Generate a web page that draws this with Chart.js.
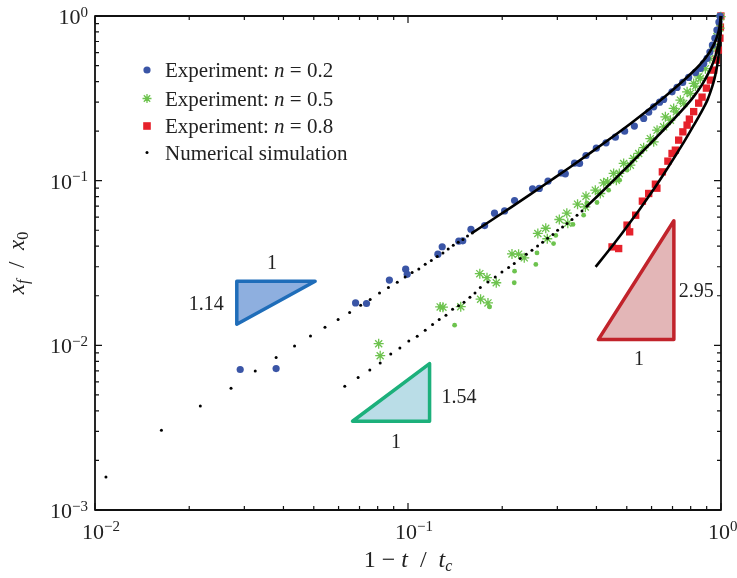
<!DOCTYPE html>
<html>
<head>
<meta charset="utf-8">
<script src="https://cdn.jsdelivr.net/npm/chart.js@4.4.0/dist/chart.umd.min.js"></script>
<style>
  html, body { margin: 0; padding: 0; background: #fff; }
</style>
</head>
<body>
<canvas id="chart" width="737" height="578"></canvas>
<script>
// 實驗數據 n = 0.2
const blueX = [0.0291,0.0379,0.0680,0.0737,0.0872,0.0983,0.0994,0.1246,0.1286,0.1453,0.1496,0.1589,0.1757,0.1890,0.2035,0.2190,0.2500,0.2627,0.2801,0.3090,0.3182,0.3405,0.3533,0.3704,0.3996,0.4293,0.4597,0.4922,0.5287,0.5662,0.5875,0.6095,0.6368,0.6558,0.6976,0.7238,0.7543,0.7884,0.8284,0.8592,0.8806,0.9029,0.9215,0.9387,0.9561,0.9703,0.9847,0.9920];
const blueY = [0.00713,0.00723,0.0181,0.01795,0.0249,0.0290,0.0270,0.0358,0.0397,0.0429,0.0431,0.0507,0.0534,0.0635,0.0655,0.0758,0.0892,0.0897,0.0993,0.1115,0.1100,0.1277,0.1272,0.1422,0.1575,0.1697,0.1838,0.1998,0.2144,0.2387,0.2607,0.2808,0.2998,0.3113,0.3463,0.3683,0.3950,0.4236,0.4544,0.4805,0.5152,0.5527,0.6036,0.6657,0.7337,0.8210,0.9183,1.0];

// 實驗數據 n = 0.5 (星號與小點)
const greenX = [0.0806,0.0815,0.1267,0.1293,0.1474,0.1696,0.1706,0.1788,0.1801,0.1914,0.2149,0.2256,0.2352,0.2599,0.2755,0.2786,0.3044,0.3217,0.3240,0.3481,0.3704,0.3686,0.3967,0.4116,0.4217,0.4343,0.4539,0.4630,0.4733,0.4887,0.5134,0.5260,0.5457,0.5662,0.5946,0.6095,0.6248,0.6558,0.6642,0.6891,0.7060,0.7200,0.7418,0.7601,0.7792,0.7985,0.8179,0.8284,0.8487,0.8592,0.8915,0.9215,0.9490,0.9703,0.9906,0.998];
const greenY = [0.01023,0.00865,0.01711,0.01704,0.01716,0.02723,0.01906,0.02575,0.01810,0.02400,0.0359,0.0358,0.0340,0.0478,0.0514,0.0444,0.0581,0.0635,0.0552,0.0720,0.0805,0.0693,0.0876,0.0836,0.0970,0.0983,0.1106,0.1007,0.1106,0.1272,0.1242,0.1364,0.1463,0.1587,0.1800,0.1721,0.2026,0.2123,0.2441,0.2331,0.2746,0.2618,0.3084,0.2944,0.3463,0.3387,0.3896,0.3751,0.4272,0.4178,0.4790,0.5511,0.6474,0.7499,0.8443,0.99];
const greenDotX = [0.1409,0.1822,0.2185,0.2190,0.2561,0.2583,0.2918,0.2966,0.3366,0.3640,0.3731,0.4016,0.4375,0.4745,0.5010];
const greenDotY = [0.01325,0.01711,0.02400,0.02820,0.0310,0.0364,0.0415,0.0465,0.0542,0.0617,0.0733,0.0737,0.0876,0.1007,0.1158];

// 實驗數據 n = 0.8
const redX = [0.4486,0.4710,0.5010,0.5107,0.5338,0.5608,0.5875,0.6172,0.6240,0.6496,0.6766,0.6976,0.7148,0.7325,0.7554,0.7792,0.7925,0.8179,0.8487,0.8700,0.8982,0.9249,0.9478,0.9667,0.9811,0.9920,0.9956,0.999];
const redY = [0.0396,0.0387,0.0537,0.0489,0.0617,0.0751,0.0836,0.0952,0.0900,0.1131,0.1314,0.1463,0.1532,0.1763,0.1979,0.2174,0.2364,0.2626,0.2957,0.3216,0.3648,0.4079,0.4691,0.5397,0.6207,0.7337,0.8562,1.0];

// 數值模擬 (稀疏點與密集段)
const sim02X = [0.01084,0.0163,0.0217,0.0272,0.0325,0.0379,0.0434,0.0488,0.0543,0.0598,0.0651,0.0706,0.0757,0.0811,0.0866,0.0924,0.0979,0.1031,0.1083,0.1135,0.1187,0.1240,0.1293,0.1344,0.1395,0.1447,0.1498,0.1549,0.1604];
const sim02Y = [0.001587,0.00305,0.004283,0.00549,0.00699,0.00843,0.00992,0.01141,0.01288,0.01435,0.01582,0.01752,0.01898,0.02081,0.02245,0.02417,0.02604,0.02769,0.02912,0.03110,0.03275,0.03463,0.03642,0.03852,0.04055,0.04230,0.04393,0.04619,0.04818];
const sim02LineX = [0.1604,0.1832,0.2122,0.2459,0.2848,0.3301,0.3824,0.4430,0.5134,0.5946,0.6642,0.7418,0.8162,0.8592,0.8915,0.9249,0.9526,0.9739,0.9883,0.999];
const sim02LineY = [0.04818,0.0569,0.0684,0.0826,0.0999,0.1211,0.1474,0.1802,0.2216,0.2749,0.3256,0.3900,0.4620,0.5110,0.5549,0.6147,0.6817,0.7603,0.8502,1.0];

const sim05X = [0.0628,0.0693,0.0755,0.0815,0.0881,0.0942,0.1006,0.1070,0.1135,0.1198,0.1258,0.1322,0.1388,0.1450,0.1510,0.1577,0.1637,0.1702,0.1801,0.1900,0.1996,0.2096,0.2185,0.2284,0.2387,0.2489,0.2594,0.2692,0.2793,0.2905,0.3006,0.3118,0.3221,0.3342,0.3467,0.3597,0.3731];
const sim05Y = [0.00564,0.00637,0.00709,0.00782,0.00887,0.00964,0.01063,0.01136,0.01235,0.01338,0.01435,0.01524,0.01657,0.01740,0.01828,0.01960,0.02081,0.02245,0.02427,0.02604,0.02792,0.02970,0.03141,0.03368,0.0358,0.03784,0.04016,0.04230,0.04474,0.04710,0.05004,0.05240,0.05495,0.0581,0.0617,0.0655,0.0700];
const sim05LineX = [0.3731,0.4026,0.4539,0.5134,0.5733,0.6402,0.6891,0.7601,0.8179,0.8700,0.9135,0.9478,0.9716,0.9883,0.9970,1.0];
const sim05LineY = [0.0700,0.0804,0.1004,0.1267,0.1564,0.1941,0.2248,0.2746,0.3238,0.3831,0.4530,0.5321,0.6207,0.7337,0.8562,1.0];

const sim08LineX = [0.3975,0.4270,0.4539,0.4830,0.5134,0.5457,0.5806,0.6172,0.6558,0.6976,0.7308,0.7601,0.7896,0.8179,0.8501,0.8806,0.9048,0.9249,0.9456,0.9596,0.9739,0.9847,0.9920,0.9970,1.0];
const sim08LineY = [0.02995,0.03547,0.04113,0.04798,0.05604,0.06572,0.07762,0.0919,0.1095,0.1315,0.1515,0.1709,0.1930,0.2165,0.2458,0.2780,0.3084,0.3449,0.3939,0.4406,0.5103,0.5951,0.6941,0.8210,1.0];

// 斜率三角形 (數據座標) 與標籤
const triBlueX = [0.02838,0.0505,0.02838];
const triBlueY = [0.02451,0.02451,0.01343];
const triGreenX = [0.0665,0.1172,0.1172];
const triGreenY = [0.003458,0.003458,0.00775];
const triRedX = [0.4056,0.7070,0.7070];
const triRedY = [0.01084,0.01084,0.0571];
const slopeLabels = ['1.14', '1.54', '2.95'];

// 刻度
const xMajor = [0.01, 0.1, 1];
const xMajorExp = ['\u22122', '\u22121', '0'];
const yMajor = [0.001, 0.01, 0.1, 1];
const yMajorExp = ['\u22123', '\u22122', '\u22121', '0'];
const legendLabels = ['Experiment: n = 0.2', 'Experiment: n = 0.5', 'Experiment: n = 0.8', 'Numerical simulation'];

const serif = '"Liberation Serif", "Times New Roman", serif';
const textColor = '#222';
const blue = '#3a55a6';
const green = '#6dc34e';
const red = '#e6212b';

const pts = (xs, ys) => xs.map((x, i) => ({ x: x, y: ys[i] }));

function richText(ctx, parts, x, y, align) {
    const widths = parts.map(p => {
        ctx.font = `${p.it ? 'italic ' : ''}${p.size}px ${serif}`;
        return ctx.measureText(p.t).width;
    });
    const total = widths.reduce((a, b) => a + b, 0);
    let cx = align === 'center' ? x - total / 2 : align === 'right' ? x - total : x;
    ctx.textAlign = 'left';
    ctx.textBaseline = 'alphabetic';
    parts.forEach((p, i) => {
        ctx.font = `${p.it ? 'italic ' : ''}${p.size}px ${serif}`;
        ctx.fillText(p.t, cx, y + (p.dy || 0));
        cx += widths[i];
    });
}

function drawTriangle(ctx, xs, ys, sx, sy, fill, stroke) {
    ctx.beginPath();
    xs.forEach((v, i) => {
        const px = sx.getPixelForValue(v), py = sy.getPixelForValue(ys[i]);
        if (i === 0) ctx.moveTo(px, py); else ctx.lineTo(px, py);
    });
    ctx.closePath();
    ctx.fillStyle = fill;
    ctx.fill();
    ctx.lineWidth = 3.5;
    ctx.lineJoin = 'round';
    ctx.strokeStyle = stroke;
    ctx.stroke();
}

function drawMarker(ctx, kind, x, y) {
    ctx.beginPath();
    if (kind === 'circle') {
        ctx.fillStyle = blue;
        ctx.arc(x, y, 3.6, 0, Math.PI * 2);
        ctx.fill();
    } else if (kind === 'star') {
        ctx.strokeStyle = green;
        ctx.lineWidth = 1.3;
        for (let k = 0; k < 4; k++) {
            const a = k * Math.PI / 4;
            ctx.moveTo(x - 4.5 * Math.cos(a), y - 4.5 * Math.sin(a));
            ctx.lineTo(x + 4.5 * Math.cos(a), y + 4.5 * Math.sin(a));
        }
        ctx.stroke();
    } else if (kind === 'rect') {
        ctx.fillStyle = red;
        ctx.fillRect(x - 3.8, y - 3.8, 7.6, 7.6);
    } else {
        ctx.fillStyle = '#000';
        ctx.arc(x, y, 1.5, 0, Math.PI * 2);
        ctx.fill();
    }
}

const framePlugin = {
    id: 'framePlugin',
    beforeDatasetsDraw(chart) {
        const { ctx, chartArea: a, scales: { x, y } } = chart;
        ctx.save();

        // 斜率三角形
        drawTriangle(ctx, triBlueX, triBlueY, x, y, '#8eafdf', '#1f6db9');
        drawTriangle(ctx, triGreenX, triGreenY, x, y, '#badde7', '#1cb07b');
        drawTriangle(ctx, triRedX, triRedY, x, y, '#e3b6b7', '#c1232b');

        ctx.fillStyle = textColor;
        const bx = triBlueX.map(v => x.getPixelForValue(v)), by = triBlueY.map(v => y.getPixelForValue(v));
        richText(ctx, [{ t: '1', size: 20 }], (bx[0] + bx[1]) / 2 - 4, by[0] - 12, 'center');
        richText(ctx, [{ t: slopeLabels[0], size: 20 }], bx[0] - 13, (by[0] + by[2]) / 2 + 7, 'right');
        const gx = triGreenX.map(v => x.getPixelForValue(v)), gy = triGreenY.map(v => y.getPixelForValue(v));
        richText(ctx, [{ t: '1', size: 20 }], (gx[0] + gx[1]) / 2 + 5, gy[0] + 27, 'center');
        richText(ctx, [{ t: slopeLabels[1], size: 20 }], gx[1] + 12, (gy[1] + gy[2]) / 2 + 11, 'left');
        const rx = triRedX.map(v => x.getPixelForValue(v)), ry = triRedY.map(v => y.getPixelForValue(v));
        richText(ctx, [{ t: '1', size: 20 }], (rx[0] + rx[1]) / 2 + 3, ry[0] + 25, 'center');
        richText(ctx, [{ t: slopeLabels[2], size: 20 }], rx[1] + 5, (ry[1] + ry[2]) / 2 + 17, 'left');

        // 外框與內向刻度
        ctx.strokeStyle = '#111';
        ctx.lineWidth = 1.8;
        ctx.strokeRect(a.left, a.top, a.right - a.left, a.bottom - a.top);
        ctx.lineWidth = 1.2;
        ctx.beginPath();
        xMajor.forEach((v, i) => {
            const px = x.getPixelForValue(v);
            ctx.moveTo(px, a.bottom); ctx.lineTo(px, a.bottom - 7);
            ctx.moveTo(px, a.top); ctx.lineTo(px, a.top + 7);
            if (i < xMajor.length - 1) {
                for (let m = 2; m <= 9; m++) {
                    const mx = x.getPixelForValue(v * m);
                    ctx.moveTo(mx, a.bottom); ctx.lineTo(mx, a.bottom - 4);
                    ctx.moveTo(mx, a.top); ctx.lineTo(mx, a.top + 4);
                }
            }
        });
        yMajor.forEach((v, i) => {
            const py = y.getPixelForValue(v);
            ctx.moveTo(a.left, py); ctx.lineTo(a.left + 7, py);
            ctx.moveTo(a.right, py); ctx.lineTo(a.right - 7, py);
            if (i < yMajor.length - 1) {
                for (let m = 2; m <= 9; m++) {
                    const my = y.getPixelForValue(v * m);
                    ctx.moveTo(a.left, my); ctx.lineTo(a.left + 4, my);
                    ctx.moveTo(a.right, my); ctx.lineTo(a.right - 4, my);
                }
            }
        });
        ctx.stroke();

        // 刻度標籤 (底數 "10" 置中於刻度)
        ctx.fillStyle = textColor;
        ctx.font = `22px ${serif}`;
        const w10 = ctx.measureText('10').width;
        xMajor.forEach((v, i) => {
            const px = x.getPixelForValue(v);
            richText(ctx, [{ t: '10', size: 22 }, { t: xMajorExp[i], size: 15, dy: -8.5 }], px - 2 - w10 / 2, 539, 'left');
        });
        yMajor.forEach((v, i) => {
            const py = y.getPixelForValue(v);
            richText(ctx, [{ t: '10', size: 22 }, { t: yMajorExp[i], size: 15, dy: -7.5 }], a.left - 7, py + 8, 'right');
        });

        // 座標軸標題
        richText(ctx, [
            { t: '1 \u2212 ', size: 24 }, { t: 't', size: 24, it: true }, { t: '\u2002/\u2002', size: 24 },
            { t: 't', size: 24, it: true }, { t: 'c', size: 16, it: true, dy: 4 }
        ], (a.left + a.right) / 2, 567, 'center');
        ctx.save();
        ctx.translate(24, (a.top + a.bottom) / 2);
        ctx.rotate(-Math.PI / 2);
        richText(ctx, [
            { t: 'x', size: 23, it: true }, { t: 'f', size: 16, it: true, dy: 4 }, { t: '\u2002/\u2002', size: 23 },
            { t: 'x', size: 23, it: true }, { t: '0', size: 16, dy: 4 }
        ], 0, 0, 'center');
        ctx.restore();

        ctx.restore();
    },
    afterDatasetsDraw(chart) {
        const { ctx } = chart;
        ctx.save();
        const kinds = ['circle', 'star', 'rect', 'dot'];
        const rows = [70, 98.5, 126, 152.5];
        legendLabels.forEach((label, i) => {
            drawMarker(ctx, kinds[i], 147, rows[i]);
            ctx.fillStyle = textColor;
            const m = label.match(/^(.*: )(n)( = .*)$/);
            const parts = m
                ? [{ t: m[1], size: 21 }, { t: m[2], size: 21, it: true }, { t: m[3], size: 21 }]
                : [{ t: label, size: 21 }];
            richText(ctx, parts, 165, rows[i] + 7, 'left');
        });
        ctx.restore();
    }
};

const expBase = { showLine: false, clip: false, order: 1, pointBorderWidth: 0 };
const simDots = { showLine: false, clip: false, order: 0, pointRadius: 1.5, pointBackgroundColor: '#000', pointBorderWidth: 0 };
const simLine = { showLine: true, clip: false, order: 0, pointRadius: 0, borderColor: '#000', borderWidth: 2.6, tension: 0.3, cubicInterpolationMode: 'monotone' };

new Chart(document.getElementById('chart'), {
    type: 'scatter',
    data: {
        datasets: [
            { label: 'sim02', data: pts(sim02X, sim02Y), ...simDots },
            { label: 'sim02 line', data: pts(sim02LineX, sim02LineY), ...simLine },
            { label: 'sim05', data: pts(sim05X, sim05Y), ...simDots },
            { label: 'sim05 line', data: pts(sim05LineX, sim05LineY), ...simLine },
            { label: 'sim08 line', data: pts(sim08LineX, sim08LineY), ...simLine },
            { label: legendLabels[0], data: pts(blueX, blueY), ...expBase, pointStyle: 'circle', pointRadius: 3.6, pointBackgroundColor: blue },
            { label: legendLabels[1], data: pts(greenX, greenY), ...expBase, pointStyle: 'star', pointRadius: 5, pointBorderColor: green, pointBorderWidth: 1.3 },
            { label: 'n05 dots', data: pts(greenDotX, greenDotY), ...expBase, pointStyle: 'circle', pointRadius: 2.4, pointBackgroundColor: green },
            { label: legendLabels[2], data: pts(redX, redY), ...expBase, pointStyle: 'rect', pointRadius: 5.2, pointBackgroundColor: red }
        ]
    },
    options: {
        responsive: false,
        animation: false,
        devicePixelRatio: 1,
        events: [],
        layout: { padding: { left: 95, right: 16, top: 16, bottom: 68 } },
        plugins: { legend: { display: false }, tooltip: { enabled: false } },
        scales: {
            x: { type: 'logarithmic', min: 0.01, max: 1, display: false },
            y: { type: 'logarithmic', min: 0.001, max: 1, display: false }
        }
    },
    plugins: [framePlugin]
});
</script>
</body>
</html>
